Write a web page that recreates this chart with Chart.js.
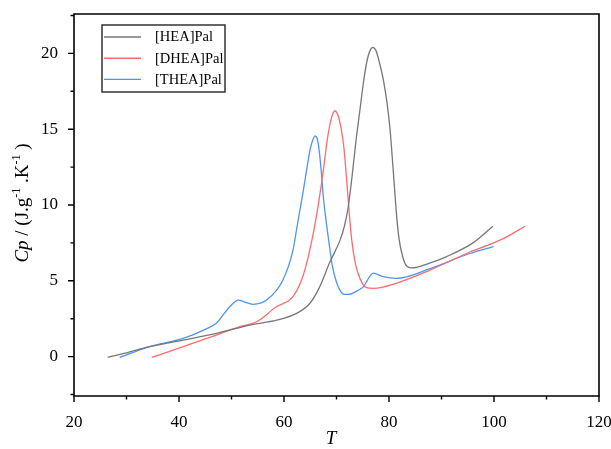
<!DOCTYPE html>
<html>
<head>
<meta charset="utf-8">
<script src="https://cdn.jsdelivr.net/npm/chart.js@4/dist/chart.umd.min.js"></script>
<style>
html,body{margin:0;padding:0;background:#fff;}
canvas{display:block;}
</style>
</head>
<body>
<canvas id="c" width="611" height="449"></canvas>
<script>
// ---- data ----
const seriesNames = ['[HEA]Pal', '[DHEA]Pal', '[THEA]Pal'];
const seriesColors = ['#777777', '#ff6b6b', '#4d94f5'];

const heaT  = [26.4, 30, 34.4, 40.8, 47.1, 53.5, 58.6, 62.4, 64.9, 66.8, 68.7, 70.7, 71.5, 72.2, 73.0, 73.7, 74.4, 75.1, 75.8, 76.4, 76.9, 77.5, 78.1, 78.9, 79.6, 80.2, 80.8, 81.4, 81.9, 82.6, 83.3, 84.3, 88, 91, 96, 99.8];
const heaCp = [-0.05, 0.25, 0.65, 1.09, 1.53, 2.08, 2.4, 2.85, 3.5, 4.6, 6.2, 7.7, 8.6, 9.8, 12.0, 14.2, 16.1, 18.0, 19.5, 20.2, 20.4, 20.2, 19.5, 18.3, 16.8, 15.0, 12.3, 9.5, 7.8, 6.6, 6.0, 5.85, 6.2, 6.6, 7.5, 8.6];

const dheaT  = [34.8, 40.8, 47.1, 51.6, 54.8, 58.6, 61.7, 63.6, 64.9, 66.2, 67.5, 68.2, 69.0, 69.7, 70.3, 70.9, 71.4, 71.9, 72.4, 72.9, 73.5, 74.1, 74.9, 75.7, 77, 81.5, 87.8, 95.4, 99.2, 102.4, 105.9];
const dheaCp = [-0.05, 0.65, 1.42, 1.97, 2.3, 3.3, 3.95, 5.3, 7.0, 9.3, 12.3, 14.2, 15.7, 16.2, 15.9, 15.0, 13.8, 11.8, 9.6, 7.7, 6.3, 5.5, 4.85, 4.55, 4.5, 4.85, 5.7, 6.9, 7.4, 7.9, 8.6];

const theaT  = [28.7, 34.4, 40.8, 45, 47.1, 49.7, 51.3, 52.5, 54.1, 56.7, 59.8, 61.7, 62.4, 63.0, 63.7, 64.3, 65.0, 65.5, 65.9, 66.3, 66.7, 67.1, 67.5, 68.0, 68.5, 69.2, 70.0, 70.7, 71.5, 72.2, 74, 75.1, 77.0, 78.9, 81.45, 87.8, 95.4, 99.9];
const theaCp = [-0.05, 0.65, 1.2, 1.8, 2.2, 3.3, 3.73, 3.6, 3.45, 3.73, 5.05, 7.0, 8.4, 9.6, 11.0, 12.3, 13.7, 14.3, 14.56, 14.4, 13.6, 12.2, 10.5, 9.0, 7.7, 6.0, 4.9, 4.35, 4.1, 4.1, 4.35, 4.6, 5.5, 5.27, 5.16, 5.8, 6.8, 7.25];

const xMajorTicks = [20, 40, 60, 80, 100, 120];
const xMinorTicks = [30, 50, 70, 90, 110];
const yMajorTicks = [0, 5, 10, 15, 20];
const yMinorTicks = [-2.5, 2.5, 7.5, 12.5, 17.5, 22.5];
const xRange = [20, 120];
const yRange = [-2.6, 22.6];

function pts(xs, ys) { return xs.map((x, i) => ({x: x, y: ys[i]})); }

const SERIF = '"Liberation Serif", "Times New Roman", serif';

const framePlugin = {
  id: 'frame',
  afterDraw(chart) {
    const ctx = chart.ctx;
    const a = chart.chartArea;
    const xs = chart.scales.x, ys = chart.scales.y;
    ctx.save();
    ctx.strokeStyle = '#000';
    ctx.lineWidth = 1.6;
    ctx.beginPath();
    ctx.rect(a.left, a.top, a.right - a.left, a.bottom - a.top);
    ctx.stroke();
    ctx.lineWidth = 1.4;
    ctx.beginPath();
    xMajorTicks.forEach(v => { const p = xs.getPixelForValue(v); ctx.moveTo(p, a.bottom); ctx.lineTo(p, a.bottom + 6); });
    xMinorTicks.forEach(v => { const p = xs.getPixelForValue(v); ctx.moveTo(p, a.bottom); ctx.lineTo(p, a.bottom + 3.5); });
    yMajorTicks.forEach(v => { const p = ys.getPixelForValue(v); ctx.moveTo(a.left, p); ctx.lineTo(a.left - 6, p); });
    yMinorTicks.forEach(v => { const p = ys.getPixelForValue(v); if (p >= a.top && p <= a.bottom) { ctx.moveTo(a.left, p); ctx.lineTo(a.left - 3.5, p); } });
    ctx.stroke();

    // y title with italic Cp and superscripts
    const segs = [
      {t: 'Cp', f: 'italic 19px ' + SERIF, dy: 0},
      {t: ' / (J.g', f: '19px ' + SERIF, dy: 0},
      {t: '-1', f: '12px ' + SERIF, dy: -8},
      {t: ' .K', f: '19px ' + SERIF, dy: 0},
      {t: '-1', f: '12px ' + SERIF, dy: -8},
      {t: ' )', f: '19px ' + SERIF, dy: 0}
    ];
    let total = 0;
    segs.forEach(s => { ctx.font = s.f; s.w = ctx.measureText(s.t).width; total += s.w; });
    ctx.translate(22, 203);
    ctx.rotate(-Math.PI / 2);
    ctx.fillStyle = '#000';
    ctx.textBaseline = 'alphabetic';
    ctx.textAlign = 'left';
    let cx = -total / 2;
    segs.forEach(s => { ctx.font = s.f; ctx.fillText(s.t, cx, 6 + s.dy); cx += s.w; });
    ctx.restore();

    // x title
    ctx.save();
    ctx.font = 'italic 19px ' + SERIF;
    ctx.fillStyle = '#000';
    ctx.textAlign = 'center';
    ctx.textBaseline = 'middle';
    ctx.fillText('T', 331, 439);
    ctx.restore();

    // legend
    ctx.save();
    const bx = 102, by = 25, bw = 123, bh = 67;
    ctx.fillStyle = '#fff';
    ctx.fillRect(bx, by, bw, bh);
    ctx.strokeStyle = '#333';
    ctx.lineWidth = 1.5;
    ctx.strokeRect(bx, by, bw, bh);
    ctx.font = '14.5px ' + SERIF;
    ctx.textBaseline = 'middle';
    ctx.textAlign = 'left';
    chart.data.datasets.forEach((d, i) => {
      const y = 37 + i * 21.2;
      ctx.strokeStyle = d.borderColor;
      ctx.lineWidth = 1.4;
      ctx.beginPath(); ctx.moveTo(104, y); ctx.lineTo(141, y); ctx.stroke();
      ctx.fillStyle = '#000';
      ctx.fillText(d.label, 155, y + 0.5);
    });
    ctx.restore();
  }
};

new Chart(document.getElementById('c'), {
  type: 'line',
  data: {
    datasets: [
      {label: seriesNames[0], data: pts(heaT, heaCp), borderColor: seriesColors[0]},
      {label: seriesNames[1], data: pts(dheaT, dheaCp), borderColor: seriesColors[1]},
      {label: seriesNames[2], data: pts(theaT, theaCp), borderColor: seriesColors[2]}
    ].map(d => Object.assign(d, {borderWidth: 1.3, pointRadius: 0, fill: false, cubicInterpolationMode: 'monotone'}))
  },
  options: {
    responsive: false,
    animation: false,
    layout: {padding: {left: 0, right: 12, top: 14, bottom: 0}},
    plugins: {legend: {display: false}, tooltip: {enabled: false}},
    scales: {
      x: {
        type: 'linear', min: xRange[0], max: xRange[1],
        grid: {display: false},
        border: {display: false},
        afterBuildTicks: s => { s.ticks = xMajorTicks.map(v => ({value: v})); },
        afterFit: s => { s.height = 53; s.paddingLeft = 0; s.paddingRight = 0; },
        ticks: {padding: 8, color: '#000', font: {family: SERIF, size: 17}, maxRotation: 0}
      },
      y: {
        type: 'linear', min: yRange[0], max: yRange[1],
        grid: {display: false},
        border: {display: false},
        afterBuildTicks: s => { s.ticks = yMajorTicks.map(v => ({value: v})); },
        afterFit: s => { s.width = 74; s.paddingTop = 0; s.paddingBottom = 0; },
        ticks: {padding: 8, color: '#000', font: {family: SERIF, size: 17}}
      }
    }
  },
  plugins: [framePlugin]
});
</script>
</body>
</html>
